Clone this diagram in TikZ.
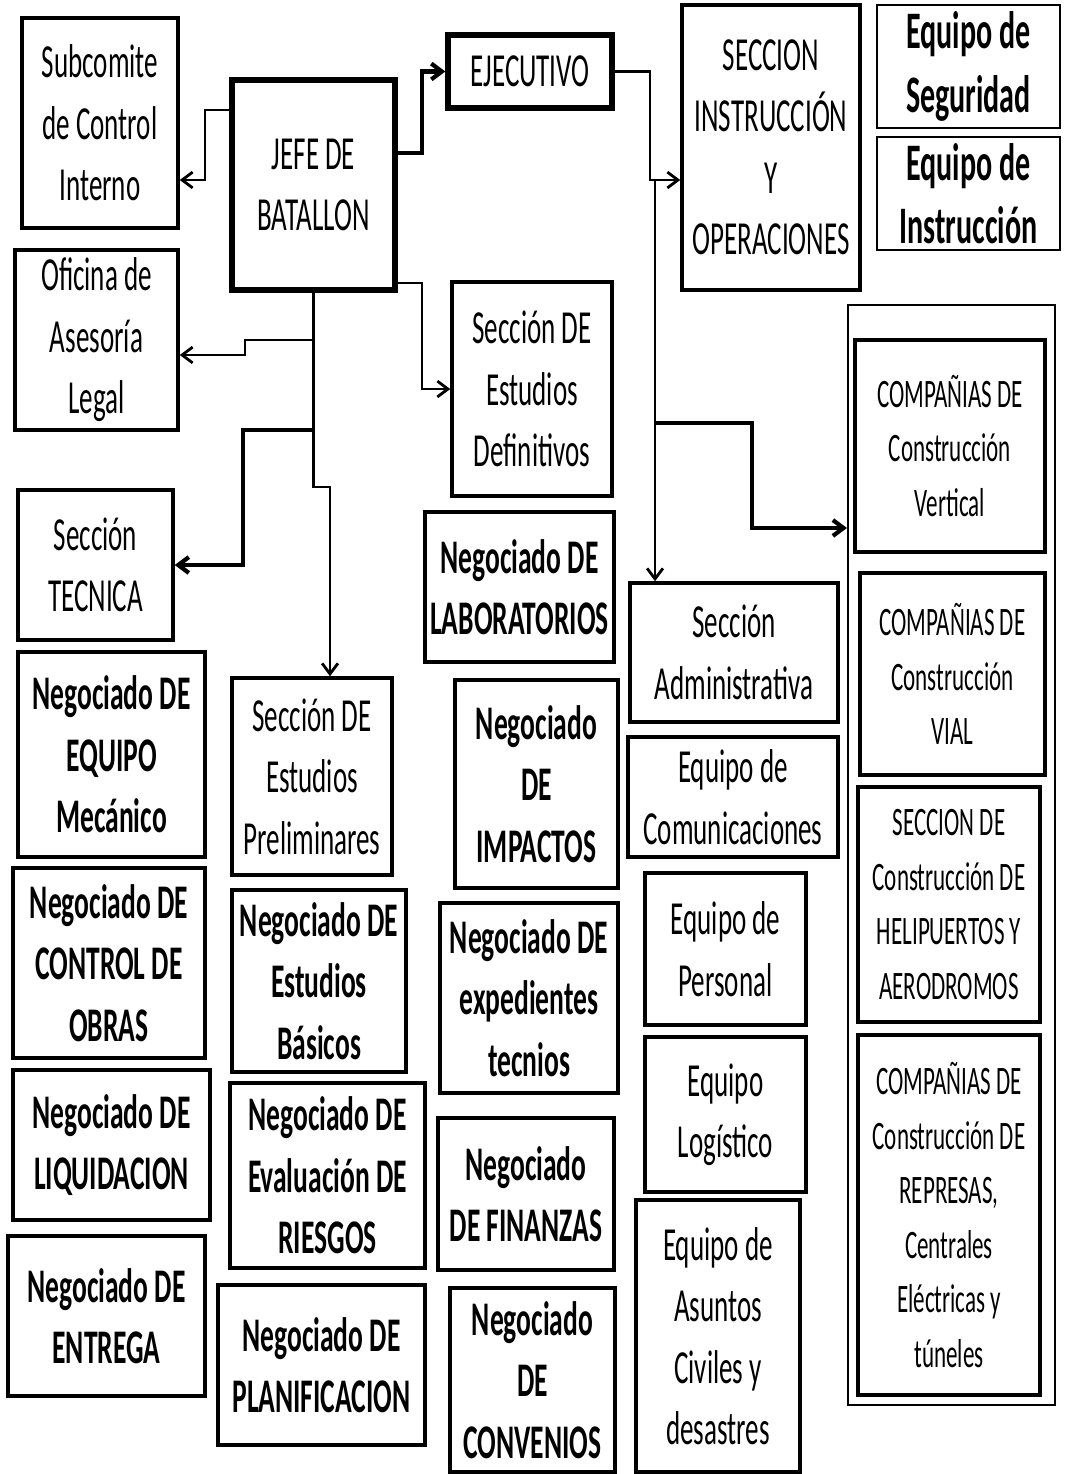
\documentclass[tikz,border=0pt]{standalone}
\usepackage{fontspec}
\setmainfont[FakeStretch=0.57]{Carlito}
\usetikzlibrary{arrows.meta}

\begin{document}
\begin{tikzpicture}[x=0.02cm, y=-0.02cm,
  box/.style={draw, line width=2pt, align=center, inner sep=0pt,
    font=\fontsize{27}{35}\selectfont},
  negbox/.style={box, font=\fontsize{27.5}{35}\selectfont\bfseries},
  jefebox/.style={box, line width=3pt},
  cia/.style={box, line width=2.6pt, font=\fontsize{23}{31}\selectfont},
  wh/.style 2 args={minimum width=#1*0.02cm, minimum height=#2*0.02cm},
  arr/.style={line width=1.6pt, -{Straight Barb[length=6pt,width=9pt]}},
  thickarr/.style={arr, line width=2.4pt}]
  \path[use as bounding box, fill=white] (0,0) rectangle (1065,1474);

  % mando
  \node[box, wh={156}{210}] (sub) at (100,123) {Subcomite\\de Control\\Interno};
  \node[jefebox, wh={163}{210}] (jefe) at (313.5,185) {JEFE DE\\BATALLON};
  \node[jefebox, wh={164}{73}] (ejec) at (530,71.5) {EJECUTIVO};
  \node[box, wh={178}{285}] (secop) at (771,147.5) {SECCION\\INSTRUCCIÓN\\Y\\OPERACIONES};
  \node[negbox, line width=1.6pt, wh={183}{123}, font=\fontsize{30}{36}\selectfont\bfseries] (seg) at (968.5,66.5) {Equipo de\\Seguridad};
  \node[negbox, line width=1.6pt, wh={183}{113}, font=\fontsize{30}{36}\selectfont\bfseries] (instr) at (968.5,193.5) {Equipo de\\Instrucción};

  % columna izquierda
  \node[box, wh={163}{180}] (ofi) at (96.5,340) {Oficina de\\Asesoría\\Legal};
  \node[box, wh={155}{150}] (tec) at (95.5,565) {Sección\\TECNICA};
  \node[negbox, wh={187}{205}] (equipo) at (111.5,754.5) {Negociado DE\\EQUIPO\\Mecánico};
  \node[negbox, wh={192}{190}] (ctrl) at (109,963) {Negociado DE\\CONTROL DE\\OBRAS};
  \node[negbox, wh={197}{150}] (liqui) at (111.5,1145) {Negociado DE\\LIQUIDACION};
  \node[negbox, wh={197}{160}] (entre) at (106.5,1316) {Negociado DE\\ENTREGA};

  % segunda columna
  \node[box, wh={160}{197}] (estpre) at (312,776.5) {Sección DE\\Estudios\\Preliminares};
  \node[negbox, wh={174}{182}] (estbas) at (319,981) {Negociado DE\\Estudios\\Básicos};
  \node[negbox, wh={195}{185}] (riesg) at (327.5,1175.5) {Negociado DE\\Evaluación DE\\RIESGOS};
  \node[negbox, wh={207}{160}] (plani) at (321.5,1365) {Negociado DE\\PLANIFICACION};

  % tercera columna
  \node[box, wh={160}{214}] (estdef) at (532,389) {Sección DE\\Estudios\\Definitivos};
  \node[negbox, wh={189}{150}] (lab) at (519.5,587) {Negociado DE\\LABORATORIOS};
  \node[negbox, wh={163}{208}] (impac) at (536.5,784) {Negociado\\DE\\IMPACTOS};
  \node[negbox, wh={178}{190}] (exped) at (529,998) {Negociado DE\\expedientes\\tecnios};
  \node[negbox, wh={176}{152}] (finan) at (526,1194) {Negociado\\DE FINANZAS};
  \node[negbox, wh={165}{184}] (conve) at (532.5,1380) {Negociado\\DE\\CONVENIOS};

  % administracion
  \node[box, wh={208}{139}] (adm) at (734,652.5) {Sección\\Administrativa};
  \node[box, wh={210}{120}] (comu) at (733,797) {Equipo de\\Comunicaciones};
  \node[box, wh={161}{152}] (pers) at (725.5,949) {Equipo de\\Personal};
  \node[box, wh={161}{155}] (logi) at (725.5,1114.5) {Equipo\\Logístico};
  \node[box, wh={164}{272}] (civil) at (718,1336) {Equipo de\\Asuntos\\Civiles y\\desastres};

  % companias
  \node[draw, line width=1.2pt, wh={207}{1100}] (cont) at (951.5,855) {};
  \node[cia, wh={190}{212}] (cvert) at (950,446) {COMPAÑIAS DE\\Construcción\\Vertical};
  \node[cia, wh={185}{202}] (cvial) at (952.5,674) {COMPAÑIAS DE\\Construcción\\VIAL};
  \node[cia, wh={182}{235}] (heli) at (949,904.5) {SECCION DE\\Construcción DE\\HELIPUERTOS Y\\AERODROMOS};
  \node[cia, wh={182}{360}] (repr) at (949,1215) {COMPAÑIAS DE\\Construcción DE\\REPRESAS,\\Centrales\\Eléctricas y\\túneles};

  % conectores
  \coordinate (t1) at (655,180);
  \coordinate (j1) at (330,487);
  \draw[arr] (jefe.west |- 0,110) -- (205,110) |- (sub.east |- 0,180);
  \draw[thickarr] (jefe.east |- 0,153) -- (422,153) |- (ejec.west);
  \draw[arr] (ejec.east) -- (650,71.5) |- (secop.west |- 0,180);
  \draw[arr] (t1) -- (t1 |- adm.north);
  \draw[thickarr] (t1 |- 0,423) -- (752,423) |- (cont.west |- 0,528);
  \draw[arr] (jefe.east |- 0,283) -- (422,283) |- (estdef.west);
  \draw[arr] (jefe.south) |- (j1) -- (j1 |- estpre.north);
  \draw[arr] (jefe.south |- 0,340) -- (245,340) |- (ofi.east |- 0,355);
  \draw[thickarr] (jefe.south |- 0,430) -- (243,430) |- (tec.east);
\end{tikzpicture}
\end{document}
